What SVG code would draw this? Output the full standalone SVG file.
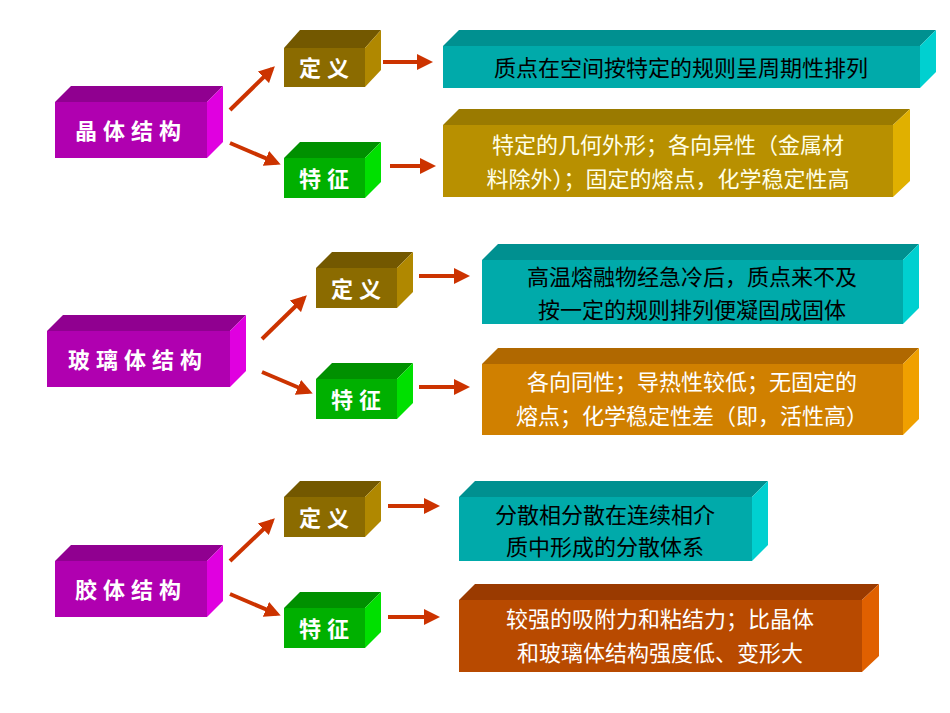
<svg xmlns="http://www.w3.org/2000/svg" width="950" height="713" viewBox="0 0 950 713">
<defs>
<marker id="ah" markerWidth="4" markerHeight="4" refX="3" refY="2" orient="auto"><path d="M0,0 L4,2 L0,4 Z" fill="#CC3300"/></marker>
<style>
.lbl{font-family:"Noto Sans CJK SC",sans-serif;font-weight:bold;font-size:22px;fill:#fff;letter-spacing:6px}
.txt{font-family:"Noto Sans CJK SC",sans-serif;font-size:22px}
.c line{stroke:#CC3300;stroke-width:4;marker-end:url(#ah)}
</style>
</defs>
<rect width="950" height="713" fill="#fff"/>
<g id="crystal"><polygon points="55,102 71,86 223,86 207,102" fill="#900090"/><polygon points="207,102 223,86 223,142 207,158" fill="#E000E0"/><rect x="55" y="102" width="152" height="56" fill="#B000B0"/><text class="lbl" x="131" y="139" text-anchor="middle">晶体结构</text></g>
<g id="def1"><polygon points="284,48 300,30 381,30 365,48" fill="#735800"/><polygon points="365,48 381,30 381,70 365,87" fill="#B08800"/><rect x="284" y="48" width="81" height="39" fill="#8B6B00"/><text class="lbl" x="327" y="76" text-anchor="middle">定义</text></g>
<g id="feat1"><polygon points="284,158 300,142 381,142 365,158" fill="#009000"/><polygon points="365,158 381,142 381,182 365,198" fill="#00E000"/><rect x="284" y="158" width="81" height="40" fill="#00B000"/><text class="lbl" x="327" y="187" text-anchor="middle">特征</text></g>
<g id="def1t"><polygon points="443,46 459,30 936,30 920,46" fill="#009090"/><polygon points="920,46 936,30 936,72 920,88" fill="#00D0D0"/><rect x="443" y="46" width="477" height="42" fill="#00AAAA"/><text class="txt" x="681" y="76" text-anchor="middle">质点在空间按特定的规则呈周期性排列</text></g>
<g id="feat1t"><polygon points="443,125 459,109 910,109 893,125" fill="#9A7A00"/><polygon points="893,125 910,109 910,181 893,197" fill="#E0B000"/><rect x="443" y="125" width="450" height="72" fill="#B89000"/><text class="txt" fill="#FFFFE8" x="668" y="153" text-anchor="middle">特定的几何外形；各向异性（金属材</text><text class="txt" fill="#FFFFE8" x="668" y="187" text-anchor="middle">料除外）；固定的熔点，化学稳定性高</text></g>
<g id="glass"><polygon points="47,331 63,315 246,315 230,331" fill="#900090"/><polygon points="230,331 246,315 246,371 230,387" fill="#E000E0"/><rect x="47" y="331" width="183" height="56" fill="#B000B0"/><text class="lbl" x="138" y="368" text-anchor="middle">玻璃体结构</text></g>
<g id="def2"><polygon points="316,268 332,252 413,252 397,268" fill="#735800"/><polygon points="397,268 413,252 413,292 397,308" fill="#B08800"/><rect x="316" y="268" width="81" height="40" fill="#8B6B00"/><text class="lbl" x="359" y="297" text-anchor="middle">定义</text></g>
<g id="feat2"><polygon points="316,379 332,363 413,363 397,379" fill="#009000"/><polygon points="397,379 413,363 413,403 397,419" fill="#00E000"/><rect x="316" y="379" width="81" height="40" fill="#00B000"/><text class="lbl" x="359" y="408" text-anchor="middle">特征</text></g>
<g id="def2t"><polygon points="482,260 498,244 919,244 903,260" fill="#009090"/><polygon points="903,260 919,244 919,308 903,324" fill="#00D0D0"/><rect x="482" y="260" width="421" height="64" fill="#00AAAA"/><text class="txt" x="692" y="285" text-anchor="middle">高温熔融物经急冷后，质点来不及</text><text class="txt" x="692" y="318" text-anchor="middle">按一定的规则排列便凝固成固体</text></g>
<g id="feat2t"><polygon points="482,364 498,348 919,348 903,364" fill="#B06800"/><polygon points="903,364 919,348 919,419 903,435" fill="#F0A000"/><rect x="482" y="364" width="421" height="71" fill="#D08000"/><text class="txt" fill="#fff" x="692" y="390" text-anchor="middle">各向同性；导热性较低；无固定的</text><text class="txt" fill="#fff" x="692" y="424" text-anchor="middle">熔点；化学稳定性差（即，活性高）</text></g>
<g id="colloid"><polygon points="55,561 71,545 223,545 207,561" fill="#900090"/><polygon points="207,561 223,545 223,601 207,617" fill="#E000E0"/><rect x="55" y="561" width="152" height="56" fill="#B000B0"/><text class="lbl" x="131" y="598" text-anchor="middle">胶体结构</text></g>
<g id="def3"><polygon points="284,497 300,481 381,481 365,497" fill="#735800"/><polygon points="365,497 381,481 381,521 365,537" fill="#B08800"/><rect x="284" y="497" width="81" height="40" fill="#8B6B00"/><text class="lbl" x="327" y="526" text-anchor="middle">定义</text></g>
<g id="feat3"><polygon points="284,608 300,592 381,592 365,608" fill="#009000"/><polygon points="365,608 381,592 381,632 365,648" fill="#00E000"/><rect x="284" y="608" width="81" height="40" fill="#00B000"/><text class="lbl" x="327" y="637" text-anchor="middle">特征</text></g>
<g id="def3t"><polygon points="459,497 475,481 768,481 752,497" fill="#009090"/><polygon points="752,497 768,481 768,545 752,561" fill="#00D0D0"/><rect x="459" y="497" width="293" height="64" fill="#00AAAA"/><text class="txt" x="605" y="523" text-anchor="middle">分散相分散在连续相介</text><text class="txt" x="605" y="555" text-anchor="middle">质中形成的分散体系</text></g>
<g id="feat3t"><polygon points="459,600 475,584 879,584 862,600" fill="#9A3A00"/><polygon points="862,600 879,584 879,656 862,672" fill="#E06000"/><rect x="459" y="600" width="403" height="72" fill="#B84A00"/><text class="txt" fill="#fff" x="660" y="627" text-anchor="middle">较强的吸附力和粘结力；比晶体</text><text class="txt" fill="#fff" x="660" y="661" text-anchor="middle">和玻璃体结构强度低、变形大</text></g>
<g class="c" id="connectors">
<line x1="230" y1="110" x2="272" y2="69"/><line x1="230" y1="143" x2="277" y2="163"/>
<line x1="383" y1="62" x2="429" y2="62"/><line x1="390" y1="166" x2="432" y2="166"/>
<line x1="262" y1="339" x2="304" y2="298"/><line x1="262" y1="372" x2="309" y2="392"/>
<line x1="419" y1="276" x2="466" y2="276"/><line x1="419" y1="387" x2="466" y2="387"/>
<line x1="230" y1="561" x2="272" y2="521"/><line x1="230" y1="594" x2="277" y2="614"/>
<line x1="388" y1="506" x2="436" y2="506"/><line x1="388" y1="617" x2="436" y2="617"/>
</g>
</svg>
